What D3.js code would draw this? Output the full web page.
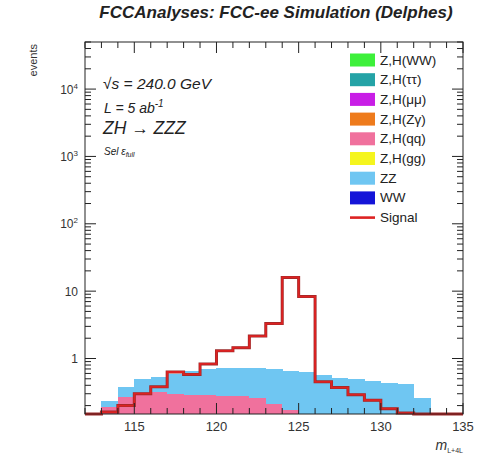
<!DOCTYPE html>
<html><head><meta charset="utf-8">
<script src="https://cdn.jsdelivr.net/npm/d3@7"></script>
<style>body{margin:0;background:#fff}svg{display:block;font-family:"Liberation Sans",Arial,sans-serif}</style>
</head><body>
<svg id="c" width="479" height="456"></svg>
<script>
// bin low edges (1 GeV bins)
const binLow = [112,113,114,115,116,117,118,119,120,121,122,123,124,125,126,127,128,129,130,131,132,133,134];
const binHigh = 135;
// stacked backgrounds
const zhqq = [0,0.19,0.27,0.31,0.32,0.30,0.29,0.29,0.28,0.28,0.26,0.21,0.17,0,0,0,0,0,0,0,0,0,0];
const zz   = [0,0.04,0.11,0.19,0.21,0.28,0.37,0.40,0.44,0.45,0.46,0.49,0.49,0.62,0.56,0.52,0.50,0.46,0.43,0.42,0.26,0,0];
// signal
const signal = [0,0.16,0.20,0.30,0.38,0.63,0.58,0.83,1.3,1.45,2.15,3.3,16,8.3,0.45,0.37,0.29,0.24,0.18,0.155,0,0,0];
const xTicks = [115,120,125,130,135];
const yTicks = [1,10,100,1000,10000];
const yTickLabels = ["1","10","10^2","10^3","10^4"];
const legendNames = ["Z,H(WW)","Z,H(\u03c4\u03c4)","Z,H(\u03bc\u03bc)","Z,H(Z\u03b3)","Z,H(qq)","Z,H(gg)","ZZ","WW","Signal"];
const legendColors = ["#3df03a","#24a3a6","#c81ee6","#ee7b1c","#f0719d","#f5f51e","#6fc6f2","#1414d8","#dd2222"];

const svg = d3.select("#c");
const L=85, R=463, T=42, B=414;
const x = d3.scaleLinear().domain([112,135]).range([L,R]);
const y = d3.scaleLog().domain([0.15,50000]).range([B,T]).clamp(true);

const qqCol = legendColors[4], zzCol = legendColors[6], sigCol = legendColors[8];
const g = svg.append("g").attr("shape-rendering","crispEdges");
// ZH(qq) at bottom
g.selectAll("rect.qq").data(binLow).enter().append("rect")
  .attr("x", d=>x(d)).attr("width", d=>x(d+1)-x(d)+0.5)
  .attr("y", (d,i)=>y(Math.max(zhqq[i],1e-6)))
  .attr("height", (d,i)=>B - y(Math.max(zhqq[i],1e-6)))
  .attr("fill", qqCol);
// ZZ stacked
g.selectAll("rect.zz").data(binLow).enter().append("rect")
  .attr("x", d=>x(d)).attr("width", d=>x(d+1)-x(d)+0.5)
  .attr("y", (d,i)=>y(Math.max(zhqq[i]+zz[i],1e-6)))
  .attr("height", (d,i)=>Math.max(0, y(Math.max(zhqq[i],1e-6)) - y(Math.max(zhqq[i]+zz[i],1e-6))))
  .attr("fill", zzCol);

// signal step line
const pts = binLow.map((d,i)=>[d, signal[i]]);
pts.push([binHigh, signal[signal.length-1]]);
const line = d3.line().x(d=>x(d[0])).y(d=>y(Math.max(d[1],1e-6))).curve(d3.curveStepAfter);
svg.append("path").attr("d", line(pts)).attr("fill","none").attr("stroke", "#9a2a2a").attr("stroke-width",3);
svg.append("path").attr("d", line(pts)).attr("fill","none").attr("stroke", sigCol).attr("stroke-width",1.8);

// frame
svg.append("rect").attr("x",L).attr("y",T).attr("width",R-L).attr("height",B-T)
  .attr("fill","none").attr("stroke","#222").attr("stroke-width",1);

// x ticks (bottom & top, inward)
const tk = svg.append("g").attr("stroke","#222").attr("stroke-width",1);
d3.range(112,136).forEach(v=>{
  const major = v%5===0;
  const len = major ? 11 : 6;
  tk.append("line").attr("x1",x(v)).attr("x2",x(v)).attr("y1",B).attr("y2",B-len);
  tk.append("line").attr("x1",x(v)).attr("x2",x(v)).attr("y1",T).attr("y2",T+len);
});
// y ticks (left & right, inward)
for (let e=-1;e<=4;e++){
  for (let m=1;m<=9;m++){
    const v = m*Math.pow(10,e);
    if (v<0.15 || v>50000) continue;
    const len = m===1 ? 11 : 6;
    tk.append("line").attr("x1",L).attr("x2",L+len).attr("y1",y(v)).attr("y2",y(v));
    tk.append("line").attr("x1",R).attr("x2",R-len).attr("y1",y(v)).attr("y2",y(v));
  }
}

// x tick labels
svg.selectAll("text.xl").data(xTicks).enter().append("text")
  .attr("x",d=>x(d)).attr("y",431).attr("text-anchor","middle")
  .attr("font-size",13).attr("fill","#333").text(d=>d);
// y tick labels
yTicks.forEach((v,i)=>{
  const lab = yTickLabels[i];
  const t = svg.append("text").attr("x",78).attr("y",y(v)+4.5).attr("text-anchor","end")
    .attr("font-size",12).attr("fill","#333");
  if (lab.includes("^")) {
    const [b,p] = lab.split("^");
    t.append("tspan").text(b);
    t.append("tspan").attr("dy",-5).attr("font-size",8).text(p);
  } else t.text(lab);
});

// title
svg.append("text").attr("x",276).attr("y",18).attr("text-anchor","middle")
  .attr("font-size",17).attr("font-weight","bold").attr("font-style","italic").attr("fill","#222")
  .text("FCCAnalyses: FCC-ee Simulation (Delphes)");
// axis titles
svg.append("text").attr("transform","translate(37,44) rotate(-90)").attr("text-anchor","end")
  .attr("font-size",11).attr("fill","#333").text("events");
const xt = svg.append("text").attr("x",463).attr("y",450).attr("text-anchor","end").attr("font-size",14).attr("fill","#333");
xt.append("tspan").attr("font-style","italic").text("m");
xt.append("tspan").attr("dy",3).attr("font-size",7).text("L+4L");

// annotations
const an = svg.append("g").attr("fill","#222").attr("font-style","italic");
const a1 = an.append("text").attr("x",103).attr("y",89).attr("font-size",15.5);
a1.append("tspan").text("\u221as = 240.0 GeV");
const a2 = an.append("text").attr("x",104).attr("y",113).attr("font-size",14);
a2.append("tspan").text("L = 5 ab");
a2.append("tspan").attr("dy",-6).attr("font-size",10).text("-1");
an.append("text").attr("x",103).attr("y",134).attr("font-size",17.5).text("ZH \u2192 ZZZ");
const a4 = an.append("text").attr("x",104).attr("y",155).attr("font-size",10);
a4.append("tspan").text("Sel \u03b5");
a4.append("tspan").attr("dy",2).attr("font-size",7).text("full");

// legend
const lg = svg.append("g");
legendNames.forEach((n,i)=>{
  const cy = 60 + i*19.7;
  if (n==="Signal") {
    lg.append("line").attr("x1",350).attr("x2",375).attr("y1",cy).attr("y2",cy)
      .attr("stroke",legendColors[i]).attr("stroke-width",2.6);
  } else {
    lg.append("rect").attr("x",350).attr("y",cy-6.5).attr("width",25).attr("height",13)
      .attr("fill",legendColors[i]);
  }
  lg.append("text").attr("x",380).attr("y",cy+4.5).attr("font-size",13.5).attr("fill","#222").text(n);
});
</script>
</body></html>
